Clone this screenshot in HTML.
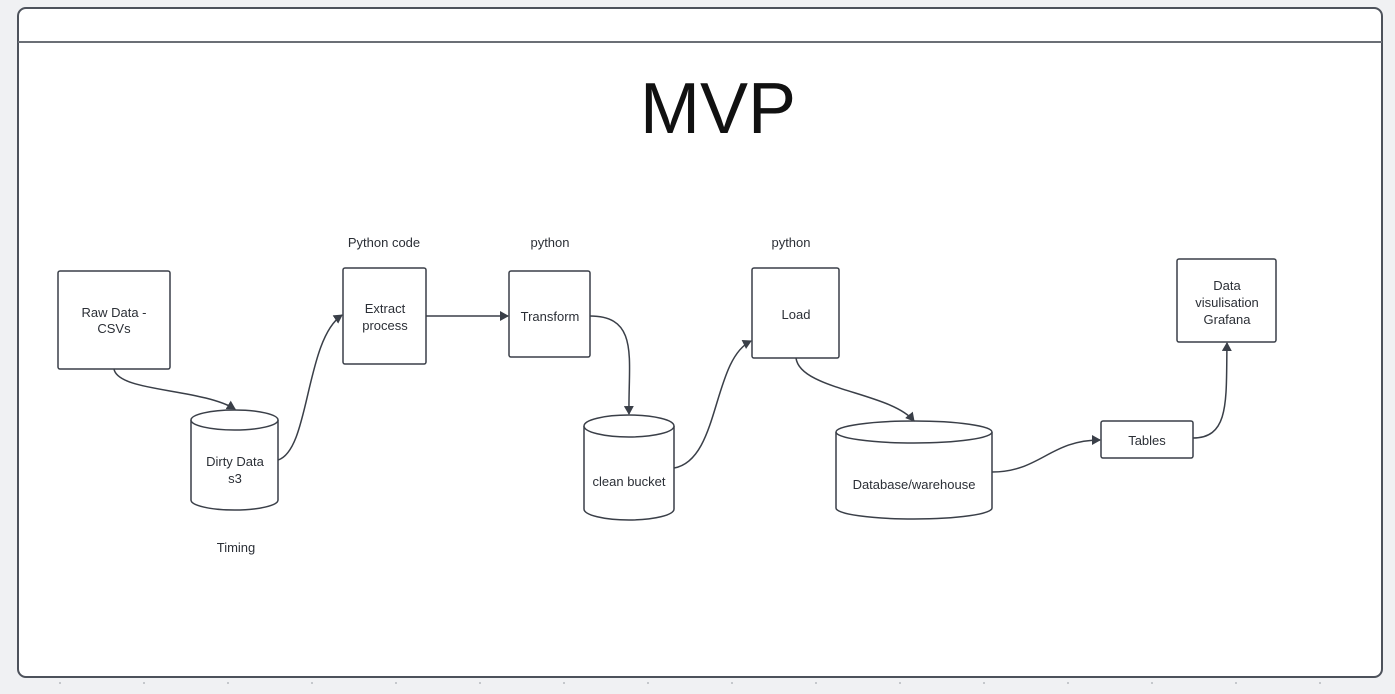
<!DOCTYPE html>
<html><head><meta charset="utf-8"><style>
html,body{margin:0;padding:0;background:#f0f1f3;}
body{width:1395px;height:689px;overflow:hidden;}
svg text{font-family:"Liberation Sans",Arial,sans-serif;fill:#2b2f36;font-size:13px;text-anchor:middle;}
</style></head><body>
<svg width="1395" height="689" viewBox="0 0 1395 689" xmlns="http://www.w3.org/2000/svg">
<defs><marker id="a" markerWidth="10" markerHeight="10" refX="8" refY="5" orient="auto" markerUnits="userSpaceOnUse"><path d="M0,0 L9,5 L0,10 Z" fill="#3a3f48"/></marker></defs>
<rect x="18" y="8" width="1364" height="669" rx="8" fill="#fff" stroke="#4d525b" stroke-width="2"/>
<line x1="18" y1="42" x2="1382" y2="42" stroke="#6b6f76" stroke-width="2"/>
<g fill="#b8bbc0">
<circle cx="60" cy="683" r="1"/><circle cx="144" cy="683" r="1"/><circle cx="228" cy="683" r="1"/><circle cx="312" cy="683" r="1"/><circle cx="396" cy="683" r="1"/><circle cx="480" cy="683" r="1"/><circle cx="564" cy="683" r="1"/><circle cx="648" cy="683" r="1"/><circle cx="732" cy="683" r="1"/><circle cx="816" cy="683" r="1"/><circle cx="900" cy="683" r="1"/><circle cx="984" cy="683" r="1"/><circle cx="1068" cy="683" r="1"/><circle cx="1152" cy="683" r="1"/><circle cx="1236" cy="683" r="1"/><circle cx="1320" cy="683" r="1"/>
</g>
<text x="718" y="133" style="font-size:72px;fill:#111">MVP</text>
<g fill="#fff" stroke="#3a3f48" stroke-width="1.5">
<rect x="58" y="271" width="112" height="98" rx="2"/>
<rect x="343" y="268" width="83" height="96" rx="2"/>
<rect x="509" y="271" width="81" height="86" rx="2"/>
<rect x="752" y="268" width="87" height="90" rx="2"/>
<rect x="1101" y="421" width="92" height="37" rx="2"/>
<rect x="1177" y="259" width="99" height="83" rx="2"/>
<path d="M191,420 L191,500 A43.5,10 0 0 0 278,500 L278,420"/><ellipse cx="234.5" cy="420" rx="43.5" ry="10"/>
<path d="M584,426 L584,509 A45,11 0 0 0 674,509 L674,426"/><ellipse cx="629" cy="426" rx="45" ry="11"/>
<path d="M836,432 L836,508 A78,11 0 0 0 992,508 L992,432"/><ellipse cx="914" cy="432" rx="78" ry="11"/>
</g>
<g fill="none" stroke="#3a3f48" stroke-width="1.5" marker-end="url(#a)">
<path d="M114,369 C118,392 200,388 235,409"/>
<path d="M278,460 C310,450 305,340 342,315"/>
<path d="M426,316 L508,316"/>
<path d="M590,316 C640,316 628,360 629,414"/>
<path d="M674,468 C720,460 712,360 751,341"/>
<path d="M796,358 C800,390 890,392 914,421"/>
<path d="M992,472 C1040,472 1050,440 1100,440"/>
<path d="M1193,438 C1230,438 1226,400 1227,343"/>
</g>
<text x="114" y="317">Raw Data -</text><text x="114" y="333">CSVs</text>
<text x="235" y="466">Dirty Data</text><text x="235" y="483">s3</text>
<text x="236" y="552">Timing</text>
<text x="384" y="247">Python code</text>
<text x="385" y="313">Extract</text><text x="385" y="330">process</text>
<text x="550" y="247">python</text>
<text x="550" y="321">Transform</text>
<text x="629" y="486">clean bucket</text>
<text x="791" y="247">python</text>
<text x="796" y="319">Load</text>
<text x="914" y="489">Database/warehouse</text>
<text x="1147" y="445">Tables</text>
<text x="1227" y="290">Data</text><text x="1227" y="307">visulisation</text><text x="1227" y="324">Grafana</text>
</svg>
</body></html>
